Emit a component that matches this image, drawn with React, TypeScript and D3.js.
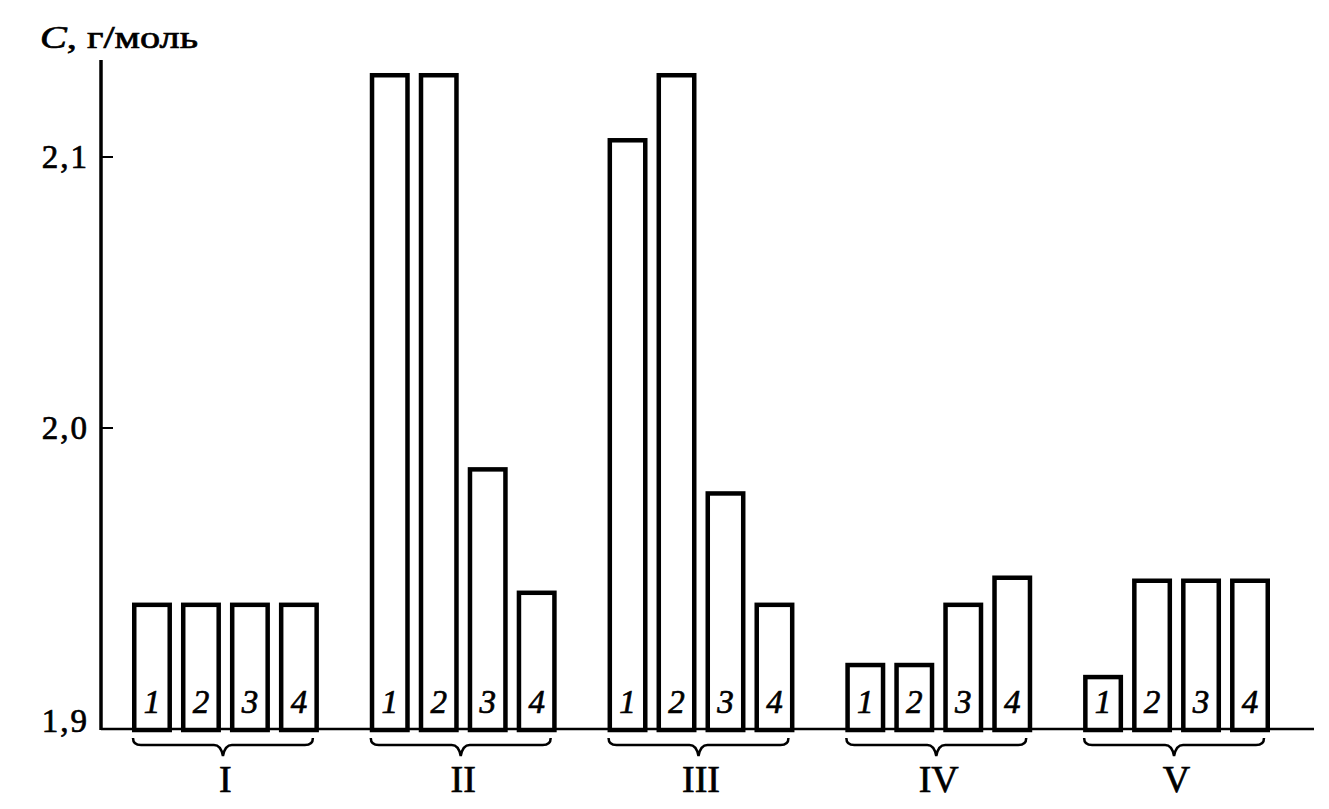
import React from "react";
import * as d3 from "d3";

const groups = ["I", "II", "III", "IV", "V"];
const series = ["1", "2", "3", "4"];
const series1 = [1.942, 2.131, 2.107, 1.922, 1.918];
const series2 = [1.942, 2.131, 2.131, 1.922, 1.95];
const series3 = [1.942, 1.987, 1.979, 1.942, 1.95];
const series4 = [1.942, 1.946, 1.942, 1.951, 1.95];
const seriesValues = [series1, series2, series3, series4];
const yTicks = [1.9, 2.0, 2.1];
const yTickLabels = ["1,9", "2,0", "2,1"];

const W = 1329;
const H = 809;
const serif = "'Liberation Serif', 'DejaVu Serif', serif";

export default function App() {
  const axisX = 101;
  const y = d3.scaleLinear().domain([1.9, 2.0, 2.1]).range([729, 428, 157]);
  const baseY = y(1.9);
  const x0 = d3.scaleBand<string>().domain(groups).range([132, 1270]).paddingInner(0.214).paddingOuter(0);
  const x1 = d3.scaleBand<string>().domain(series).range([0, x0.bandwidth()]).paddingInner(0.184).paddingOuter(0);
  const sw = 4.5;
  const ink = { fill: "#000", stroke: "#000", strokeWidth: 0.7 };

  const bracePath = (g: string) => {
    const a = (x0(g) as number) + 1;
    const b = (x0(g) as number) + x0.bandwidth() - 6;
    const c = (a + b) / 2;
    const top = baseY + 9;
    const mid = baseY + 16;
    const tip = baseY + 27;
    const p = d3.path();
    p.moveTo(a, top);
    p.quadraticCurveTo(a, mid, a + 8, mid);
    p.lineTo(c - 9, mid);
    p.quadraticCurveTo(c - 2, mid, c, tip);
    p.quadraticCurveTo(c + 2, mid, c + 9, mid);
    p.lineTo(b - 8, mid);
    p.quadraticCurveTo(b, mid, b, top);
    return p.toString();
  };

  return (
    <svg width={W} height={H} style={{ position: "absolute", left: 0, top: 0, background: "#fff" }} fontFamily={serif}>
      {/* title */}
      <text x={40} y={48} fontSize={32} {...ink} textLength={158} lengthAdjust="spacingAndGlyphs">
        <tspan fontStyle="italic">C</tspan>, г/моль
      </text>
      {/* y axis */}
      <line x1={axisX} x2={axisX} y1={60} y2={baseY + 1} stroke="#000" strokeWidth={3.5} />
      {yTicks.map((t, i) => (
        <g key={t}>
          {i > 0 && <line x1={axisX} x2={axisX + 12} y1={y(t)} y2={y(t)} stroke="#000" strokeWidth={2} />}
          <text
            x={89}
            y={y(t) - (i === 0 ? 8 : 0)}
            textAnchor="end"
            dominantBaseline="central"
            fontSize={33}
            letterSpacing={2}
            {...ink}
          >
            {yTickLabels[i]}
          </text>
        </g>
      ))}
      {/* baseline */}
      <line x1={axisX} x2={1314} y1={baseY} y2={baseY} stroke="#000" strokeWidth={2.5} />
      {/* bars */}
      {groups.map((g, gi) => (
        <g key={g} transform={`translate(${x0(g)},0)`}>
          {series.map((s, si) => {
            const v = seriesValues[si][gi];
            const bx = (x1(s) as number) + sw / 2;
            const bw = x1.bandwidth() - sw;
            const top = y(v) + sw / 2;
            return (
              <g key={s}>
                <rect x={bx} y={top} width={bw} height={baseY + 1 - top} fill="#fff" stroke="#000" strokeWidth={sw} />
                <text
                  x={(x1(s) as number) + x1.bandwidth() / 2}
                  y={baseY - 16}
                  textAnchor="middle"
                  fontSize={33}
                  fontStyle="italic"
                  {...ink}
                >
                  {s}
                </text>
              </g>
            );
          })}
        </g>
      ))}
      {/* braces and group labels */}
      {groups.map((g) => (
        <g key={"b" + g}>
          <path d={bracePath(g)} fill="none" stroke="#000" strokeWidth={2.5} />
          <text
            x={(x0(g) as number) + x0.bandwidth() / 2}
            y={792}
            textAnchor="middle"
            fontSize={38}
            {...ink}
          >
            {g}
          </text>
        </g>
      ))}
    </svg>
  );
}
